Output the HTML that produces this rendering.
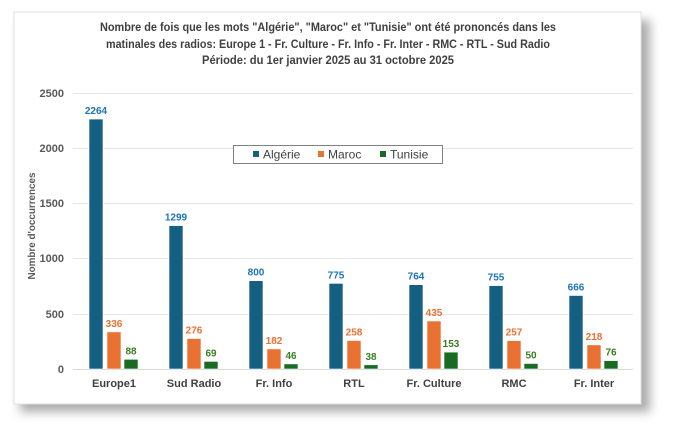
<!DOCTYPE html>
<html><head><meta charset="utf-8"><style>
html,body{margin:0;padding:0;background:#fff;}
svg{display:block;font-family:"Liberation Sans",sans-serif;}
</style></head><body>
<svg width="677" height="438" viewBox="0 0 677 438" xmlns="http://www.w3.org/2000/svg">
<defs>
<filter id="sh" x="-10%" y="-10%" width="130%" height="130%"><feGaussianBlur stdDeviation="5"/></filter>
</defs>
<rect x="20" y="20" width="630" height="392" fill="#888" opacity="0.7" filter="url(#sh)"/>
<rect x="14" y="12" width="627" height="392" fill="#fff" stroke="#e0e0e0" stroke-width="1"/>
<g font-weight="bold" fill="#404040" font-size="12" text-anchor="middle">
<text x="328" y="31" textLength="456" lengthAdjust="spacingAndGlyphs">Nombre de fois que les mots "Algérie", "Maroc" et "Tunisie" ont été prononcés dans les</text>
<text x="328" y="48" textLength="444" lengthAdjust="spacingAndGlyphs">matinales des radios: Europe 1 - Fr. Culture - Fr. Info - Fr. Inter - RMC - RTL - Sud Radio</text>
<text x="328" y="64" textLength="252" lengthAdjust="spacingAndGlyphs">Période: du 1er janvier 2025 au 31 octobre 2025</text>
</g>
<g stroke="#e6e6e6" stroke-width="1">
<line x1="73" y1="93.5" x2="633" y2="93.5"/>
<line x1="73" y1="148.5" x2="633" y2="148.5"/>
<line x1="73" y1="203.5" x2="633" y2="203.5"/>
<line x1="73" y1="258.5" x2="633" y2="258.5"/>
<line x1="73" y1="314.5" x2="633" y2="314.5"/>
<line x1="73" y1="369.5" x2="633" y2="369.5" stroke="#d9d9d9"/>
</g>
<g font-size="11" font-weight="bold" fill="#595959" text-anchor="end">
<text x="64" y="97">2500</text><text x="64" y="152">2000</text><text x="64" y="207">1500</text>
<text x="64" y="262">1000</text><text x="64" y="318">500</text><text x="64" y="373">0</text>
</g>
<text transform="translate(35,226) rotate(-90)" font-size="10.5" font-weight="bold" fill="#595959" text-anchor="middle" textLength="107" lengthAdjust="spacingAndGlyphs">Nombre d'occurrences</text>
<rect x="233.5" y="145.5" width="209" height="18" fill="#fff" stroke="#808080"/>
<rect x="253" y="151" width="6" height="6" fill="#156082"/>
<text x="263" y="158.5" font-size="12" fill="#404040">Algérie</text>
<rect x="318" y="151" width="6" height="6" fill="#E97132"/>
<text x="328" y="158.5" font-size="12" fill="#404040">Maroc</text>
<rect x="380" y="151" width="6" height="6" fill="#196B24"/>
<text x="390" y="158.5" font-size="12" fill="#404040">Tunisie</text>

<g stroke="#fff" stroke-width="0.6">
<g fill="#156082">
<rect x="89" y="119.05" width="14" height="249.95"/>
<rect x="169" y="225.6" width="14" height="143.4"/>
<rect x="249" y="280.7" width="14" height="88.3"/>
<rect x="329" y="283.4" width="14" height="85.6"/>
<rect x="409" y="284.7" width="14" height="84.3"/>
<rect x="489" y="285.6" width="14" height="83.4"/>
<rect x="569" y="295.5" width="14" height="73.5"/>
</g>
<g fill="#E97132">
<rect x="107" y="331.9" width="14" height="37.1"/>
<rect x="187" y="338.5" width="14" height="30.5"/>
<rect x="267" y="348.9" width="14" height="20.1"/>
<rect x="347" y="340.5" width="14" height="28.5"/>
<rect x="427" y="321.0" width="14" height="48.0"/>
<rect x="507" y="340.6" width="14" height="28.4"/>
<rect x="587" y="344.9" width="14" height="24.1"/>
</g>
<g fill="#196B24">
<rect x="124" y="359.3" width="14" height="9.7"/>
<rect x="204" y="361.4" width="14" height="7.6"/>
<rect x="284" y="363.9" width="14" height="5.1"/>
<rect x="364" y="364.8" width="14" height="4.2"/>
<rect x="444" y="352.1" width="14" height="16.9"/>
<rect x="524" y="363.5" width="14" height="5.5"/>
<rect x="604" y="360.6" width="14" height="8.4"/>
</g>
</g>
<g font-size="10" font-weight="bold" text-anchor="middle">
<g fill="#1A74B8">
<text x="96" y="114">2264</text><text x="176" y="220.6">1299</text><text x="256" y="275.7">800</text>
<text x="336" y="278.4">775</text><text x="416" y="279.7">764</text><text x="496" y="280.6">755</text><text x="576" y="290.5">666</text>
</g>
<g fill="#E97132">
<text x="114" y="326.9">336</text><text x="194" y="333.5">276</text><text x="274" y="343.9">182</text>
<text x="354" y="335.5">258</text><text x="434" y="316">435</text><text x="514" y="335.6">257</text><text x="594" y="339.9">218</text>
</g>
<g fill="#3B7D23">
<text x="131" y="354.3">88</text><text x="211" y="356.4">69</text><text x="291" y="358.9">46</text>
<text x="371" y="359.8">38</text><text x="451" y="347.1">153</text><text x="531" y="358.5">50</text><text x="611" y="355.6">76</text>
</g>
</g>
<g font-size="11" font-weight="bold" fill="#404040" text-anchor="middle">
<text x="114" y="387">Europe1</text><text x="194" y="387">Sud Radio</text><text x="274" y="387">Fr. Info</text>
<text x="354" y="387">RTL</text><text x="434" y="387">Fr. Culture</text><text x="514" y="387">RMC</text><text x="594" y="387">Fr. Inter</text>
</g>
</svg>
</body></html>
